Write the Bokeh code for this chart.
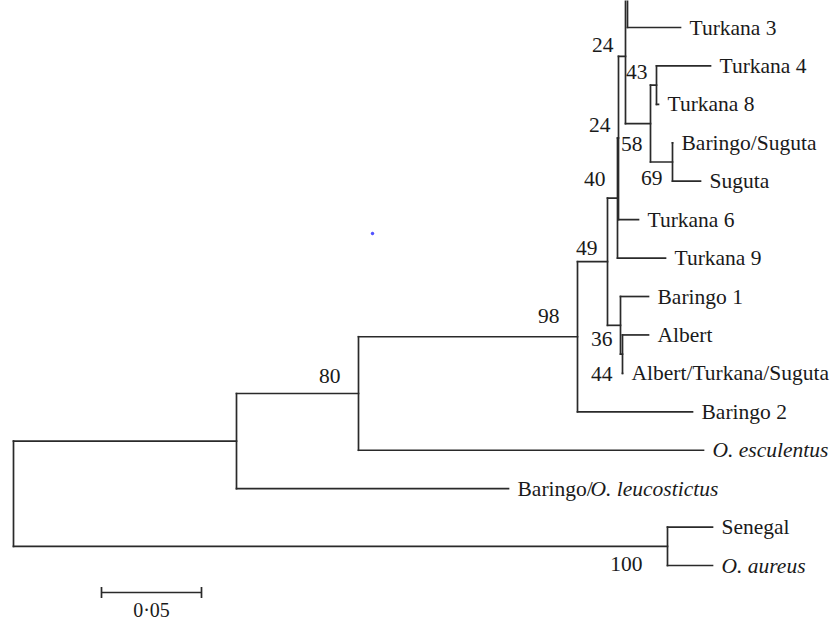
from bokeh.plotting import figure
from bokeh.models import ColumnDataSource, Range1d
from bokeh.core.properties import value
from bokeh.embed import file_html
from bokeh.resources import INLINE

# ---------------- data: tree topology and branch lengths (subst./site) -------------
nodes = ["root", "i_in", "i_esc", "i_lake", "i49", "i40", "i24b", "i24a", "iW",
         "top1", "top2", "Turkana 3", "i58", "i43", "Turkana 4", "Turkana 8",
         "i69", "Baringo/Suguta", "Suguta", "Turkana 6", "Turkana 9",
         "i36", "Baringo 1", "i44", "Albert", "Albert/Turkana/Suguta",
         "Baringo 2", "O. esculentus", "Baringo/O. leucostictus",
         "i100", "Senegal", "O. aureus"]
parents = [None, "root", "i_in", "i_esc", "i_lake", "i49", "i40", "i24b", "i24a",
           "iW", "iW", "iW", "i24a", "i58", "i43", "i43",
           "i58", "i69", "i69", "i24b", "i40",
           "i49", "i36", "i36", "i44", "i44",
           "i_lake", "i_esc", "i_in",
           "root", "i100", "i100"]
branch_lengths = [0.0, 0.1115, 0.061, 0.1095, 0.015, 0.005, 0.0005, 0.0035, 0.001,
                  0.02, 0.02, 0.0265, 0.0125, 0.003, 0.027, 0.001,
                  0.011, 0.0, 0.014, 0.010, 0.024,
                  0.0065, 0.014, 0.001, 0.013, 0.0,
                  0.0575, 0.1725, 0.136,
                  0.327, 0.0225, 0.0225]
hidden_leaves = ["top1", "top2"]          # cut off at the top of the original figure
italic_leaves = ["O. esculentus", "O. aureus"]

boot_nodes = ["i24a", "i43", "i24b", "i58", "i40", "i69", "i49", "i36", "i44",
              "i_lake", "i_esc", "i100"]
boot_values = ["24", "43", "24", "58", "40", "69", "49", "36", "44", "98", "80", "100"]

scale_length = 0.05
scale_label = "0\u00b705"

# ---------------- layout styles (pixel offsets) ----------------
boot_dx = [-12, -9, -8, -8, -12, -10, -10, -8, -10, -18, -18, -25]
boot_dy = [-11, -13, -12.5, 20, -19.5, 16, -13.5, 13.5, 20, -21, -17, 17.5]

FONT = value("Liberation Serif")
FSIZE = value("21.5px")
LCOL = "#2a2a2a"
TCOL = "#1a1a1a"

# ---------------- compute tree coordinates ----------------
blen = dict(zip(nodes, branch_lengths))
children = {n: [] for n in nodes}
for n, par in zip(nodes, parents):
    if par is not None:
        children[par].append(n)

xpos, ypos = {}, {}
counter = [0]


def place(n, x):
    xpos[n] = x
    if not children[n]:
        ypos[n] = counter[0]
        counter[0] += 1
    else:
        for c in children[n]:
            place(c, x + blen[c])
        ypos[n] = (ypos[children[n][0]] + ypos[children[n][-1]]) / 2.0


place("root", 0.0)

x0s, y0s, x1s, y1s = [], [], [], []
for n, par in zip(nodes, parents):
    if par is not None:
        x0s.append(xpos[par]); y0s.append(ypos[n])
        x1s.append(xpos[n]); y1s.append(ypos[n])
    if children[n]:
        x0s.append(xpos[n]); y0s.append(ypos[children[n][0]])
        x1s.append(xpos[n]); y1s.append(ypos[children[n][-1]])

# ---------------- figure ----------------
W, H = 832, 619
px_per_unit = 2000.0
px_per_leaf = 38.43
ref_leaf = ypos["Turkana 3"]
x_start = -13 / px_per_unit
y_top = ref_leaf + (0 - 27) / px_per_leaf
y_bot = ref_leaf + (H - 27) / px_per_leaf

p = figure(width=W, height=H, output_backend="svg", toolbar_location=None,
           x_range=Range1d(x_start, x_start + W / px_per_unit),
           y_range=Range1d(y_bot, y_top), min_border=0)
p.axis.visible = False
p.grid.visible = False
p.outline_line_color = None
p.background_fill_color = "white"
p.border_fill_color = "white"

p.segment(x0=x0s, y0=y0s, x1=x1s, y1=y1s, line_color=LCOL, line_width=1.7,
          line_cap="square")

# leaf labels
normal = [n for n in nodes if not children[n] and n not in hidden_leaves
          and n not in italic_leaves and "/O. " not in n]
italic = [n for n in nodes if n in italic_leaves]
mixed = [n for n in nodes if not children[n] and "/O. " in n]

p.text(x=[xpos[n] for n in normal], y=[ypos[n] for n in normal], text=normal,
       x_offset=9, text_baseline="middle", text_align="left",
       text_font=FONT, text_font_size=FSIZE, text_color=TCOL)
p.text(x=[xpos[n] for n in italic], y=[ypos[n] for n in italic], text=italic,
       x_offset=9, text_baseline="middle", text_align="left", text_font_style="italic",
       text_font=FONT, text_font_size=FSIZE, text_color=TCOL)
for n in mixed:
    head, tail = n.split("/", 1)
    p.text(x=[xpos[n]], y=[ypos[n]], text=[head + "/"], x_offset=9,
           text_baseline="middle", text_align="left",
           text_font=FONT, text_font_size=FSIZE, text_color=TCOL)
    p.text(x=[xpos[n]], y=[ypos[n]], text=[tail], x_offset=9 + 73,
           text_baseline="middle", text_align="left", text_font_style="italic",
           text_font=FONT, text_font_size=FSIZE, text_color=TCOL)

# bootstrap values
bsrc = ColumnDataSource(dict(x=[xpos[n] for n in boot_nodes],
                             y=[ypos[n] for n in boot_nodes],
                             t=boot_values, dx=boot_dx, dy=boot_dy))
p.text(x="x", y="y", text="t", x_offset="dx", y_offset="dy", source=bsrc,
       text_align="right", text_baseline="middle",
       text_font=FONT, text_font_size=FSIZE, text_color=TCOL)

# scale bar
sb_x0 = 0.044
sb_y = ref_leaf + (592 - 27) / px_per_leaf
tick = 5.5 / px_per_leaf
p.segment(x0=[sb_x0, sb_x0, sb_x0 + scale_length],
          y0=[sb_y, sb_y - tick, sb_y - tick],
          x1=[sb_x0 + scale_length, sb_x0, sb_x0 + scale_length],
          y1=[sb_y, sb_y + tick, sb_y + tick], line_color=LCOL, line_width=1.7)
p.text(x=[sb_x0 + scale_length / 2], y=[sb_y], text=[scale_label], y_offset=17,
       text_align="center", text_baseline="middle",
       text_font=FONT, text_font_size=value("20px"), text_color=TCOL)

# stray blue speck present in the original
p.scatter(x=[(372 - 13) / px_per_unit], y=[ref_leaf + (233 - 27) / px_per_leaf],
          size=2.5, color="#2b2bff", alpha=0.8)

open("out.html", "w").write(file_html(p, INLINE))
